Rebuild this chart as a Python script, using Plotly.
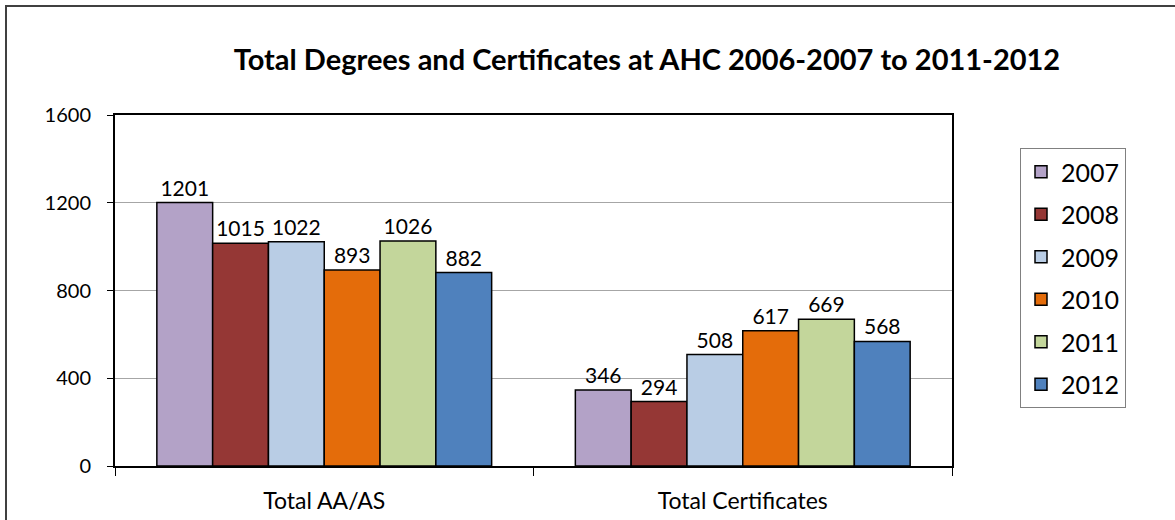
import plotly.graph_objects as go

categories = ["Total AA/AS", "Total Certificates"]
years = ["2007", "2008", "2009", "2010", "2011", "2012"]
values_2007 = [1201, 346]
values_2008 = [1015, 294]
values_2009 = [1022, 508]
values_2010 = [893, 617]
values_2011 = [1026, 669]
values_2012 = [882, 568]
series = [values_2007, values_2008, values_2009, values_2010, values_2011, values_2012]
colors = ["#B3A2C7", "#953735", "#B9CDE5", "#E46C0A", "#C3D69B", "#4F81BD"]
y_ticks = [0, 400, 800, 1200, 1600]

FONT = "Lato"

fig = go.Figure()
for yr, vals, col in zip(years, series, colors):
    fig.add_trace(go.Bar(
        name=yr, x=categories, y=vals,
        marker=dict(color=col, line=dict(color="black", width=1.5)),
        text=[str(v) for v in vals], textposition="outside",
        textfont=dict(family=FONT, size=21, color="black"),
        cliponaxis=False, legendgroup=yr,
    ))

W, H = 1175, 520
L, R, T, B = 115, 223, 115, 54
pw, ph = W - L - R, H - T - B

def px_x(p):
    return (p - L) / pw

def px_y(p):
    return (H - B - p) / ph

fig.update_layout(
    width=W, height=H,
    margin=dict(l=L, r=R, t=T, b=B, autoexpand=False),
    paper_bgcolor="white", plot_bgcolor="white",
    barmode="group", bargap=0.2, bargroupgap=0,
    font=dict(family=FONT, color="black"),
    title=dict(text="<b>Total Degrees and Certificates at AHC 2006-2007 to 2011-2012</b>",
               font=dict(family=FONT, size=29, color="black"),
               x=647 / W, xanchor="center", y=1 - 60 / H, yanchor="middle"),
    legend=dict(x=px_x(1020), y=px_y(148), xanchor="left", yanchor="top",
                bordercolor="#808080", borderwidth=1, bgcolor="white",
                font=dict(family=FONT, size=25, color="black"),
                tracegroupgap=7, traceorder="grouped"),
    xaxis=dict(showline=True, mirror=True, linecolor="black", linewidth=2,
               ticks="outside", tickson="boundaries", ticklen=8, tickcolor="black",
               tickfont=dict(family=FONT, size=23, color="black"), ticklabelstandoff=13,
               automargin=False),
    yaxis=dict(range=[0, 1600], tickvals=y_ticks, showline=True, mirror=True,
               linecolor="black", linewidth=2, ticks="outside", ticklen=6,
               tickcolor="black", showgrid=True, gridcolor="#A6A6A6", gridwidth=1,
               zeroline=False, tickfont=dict(family=FONT, size=20, color="black"),
               ticklabelstandoff=12, automargin=False),
    shapes=[dict(type="rect", xref="paper", yref="paper",
                 x0=px_x(6), x1=px_x(W + 10), y0=px_y(H + 10), y1=px_y(6),
                 line=dict(color="#404040", width=2), fillcolor="rgba(0,0,0,0)", layer="below")],
)

fig.write_html("out.html", config={"displayModeBar": False},
               post_script="document.body.style.margin='0px';")
